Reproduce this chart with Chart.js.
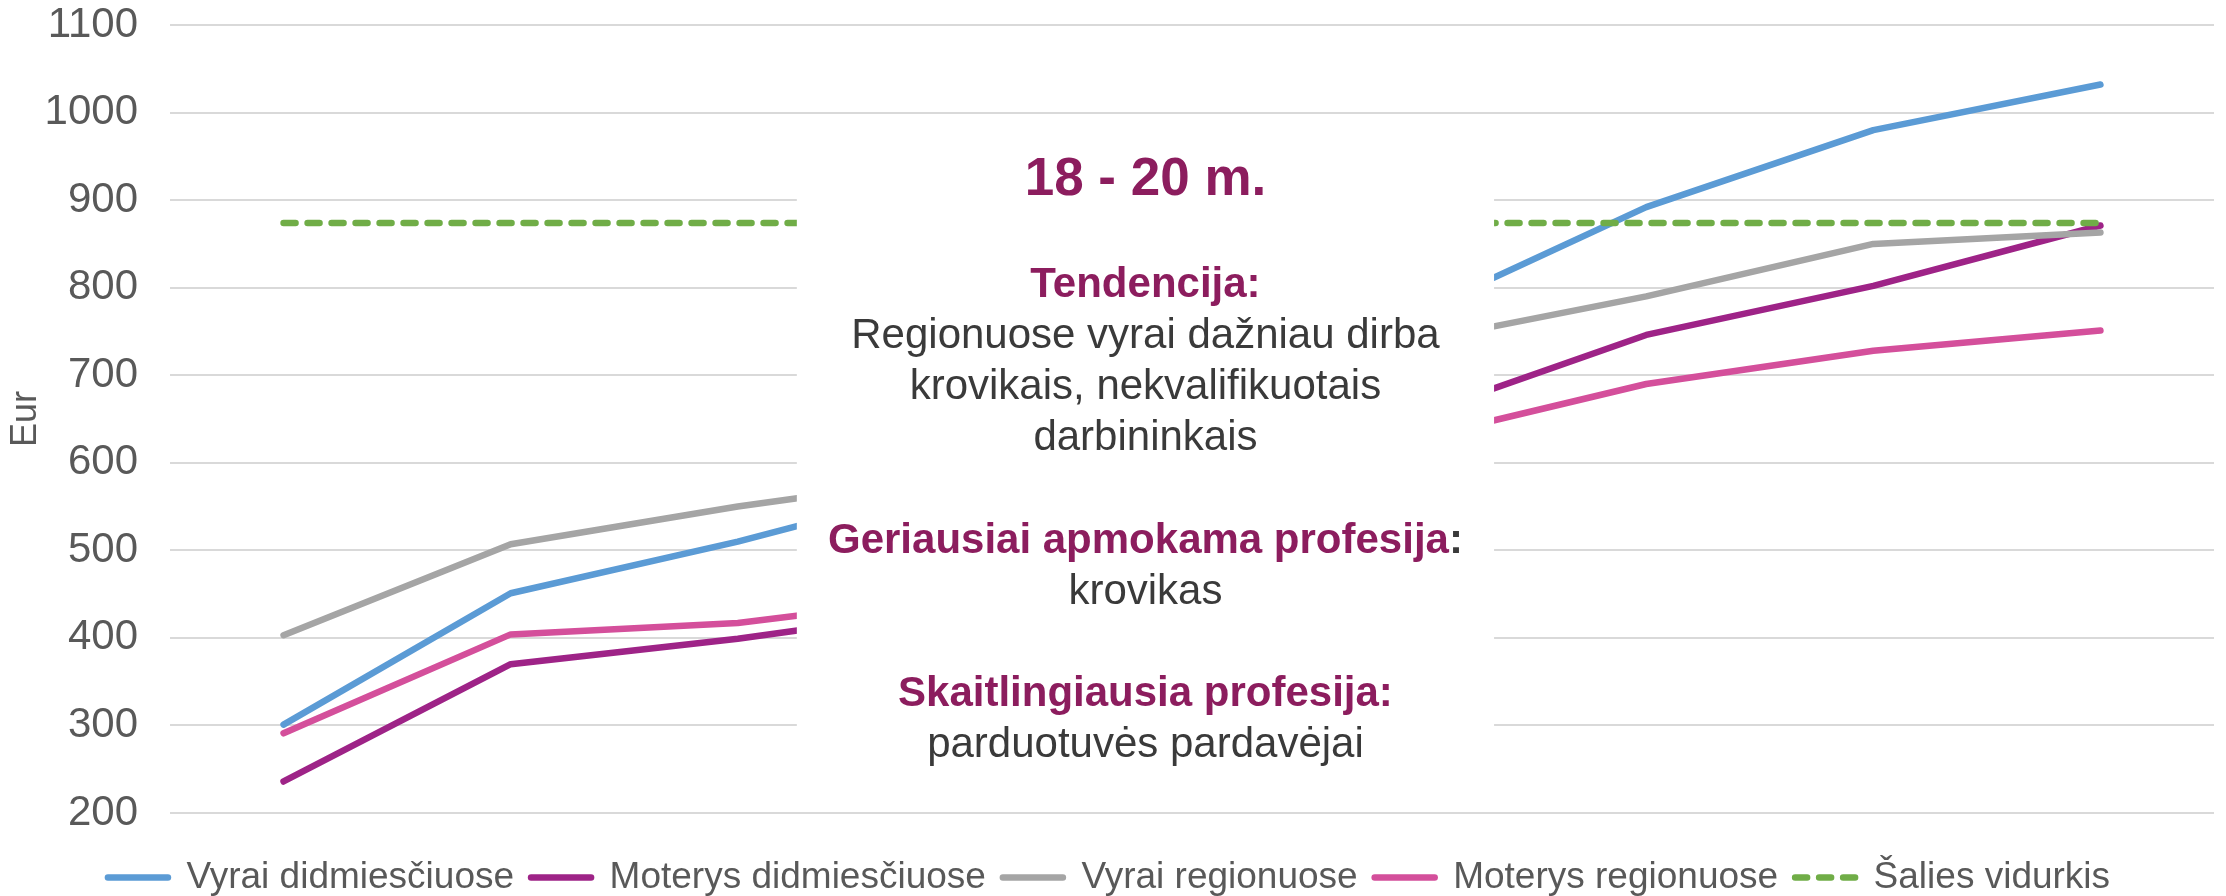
<!DOCTYPE html>
<html>
<head>
<meta charset="utf-8">
<script src="https://cdn.jsdelivr.net/npm/chart.js@4.4.1/dist/chart.umd.min.js"></script>
<style>
  body { margin: 0; background: #ffffff; }
  #wrap { width: 2226px; height: 896px; }
</style>
</head>
<body>
<div id="wrap"><canvas id="salaryChart" width="2226" height="896"></canvas></div>
<script>
const periods = ["1", "2", "3", "4", "5", "6", "7", "8", "9"];
const seriesNames = [
  "Vyrai didmiesčiuose",
  "Moterys didmiesčiuose",
  "Vyrai regionuose",
  "Moterys regionuose",
  "Šalies vidurkis",
];
const menCities = [301, 451, 510, 578, 680, 772, 892, 980, 1032];
const womenCities = [236, 370, 399, 435, 545, 655, 746, 802, 871];
const menRegions = [403, 507, 550, 586, 660, 739, 790, 850, 863];
const womenRegions = [291, 404, 417, 449, 540, 628, 690, 728, 751];
const countryAverage = [874, 874, 874, 874, 874, 874, 874, 874, 874];
const yTicks = [200, 300, 400, 500, 600, 700, 800, 900, 1000, 1100];

const lineColors = ["#5B9BD5", "#9E2387", "#A5A5A5", "#D44F9B", "#70AD47"];
const FONT = "'Liberation Sans', Arial, sans-serif";

// note text in the white box over the middle of the chart
const noteTitle = "18 - 20 m.";
const noteLines = [
  { head: "Tendencija:" },
  { text: "Regionuose vyrai dažniau dirba" },
  { text: "krovikais, nekvalifikuotais" },
  { text: "darbininkais" },
  {},
  { head: "Geriausiai apmokama profesija", tail: ":" },
  { text: "krovikas" },
  {},
  { head: "Skaitlingiausia profesija:" },
  { text: "parduotuvės pardavėjai" },
];

const noteBox = {
  id: "noteBox",
  afterDatasetsDraw(chart) {
    const { ctx, scales: { x, y } } = chart;
    const left = x.getPixelForValue(2.26);
    const right = x.getPixelForValue(5.33);
    const top = y.getPixelForValue(980);
    const bottom = y.getPixelForValue(250);
    const cx = (left + right) / 2;
    ctx.save();
    ctx.fillStyle = "#ffffff";
    ctx.fillRect(left, top, right - left, bottom - top);
    ctx.textBaseline = "middle";
    ctx.textAlign = "center";
    ctx.fillStyle = "#8C1D5E";
    ctx.font = "bold 53px " + FONT;
    ctx.fillText(noteTitle, cx, top + 50);
    let ly = top + 155;
    for (const line of noteLines) {
      if (line.head) {
        ctx.font = "bold 42px " + FONT;
        const tail = line.tail || "";
        const w1 = ctx.measureText(line.head).width;
        const w2 = ctx.measureText(tail).width;
        ctx.textAlign = "left";
        ctx.fillStyle = "#8C1D5E";
        ctx.fillText(line.head, cx - (w1 + w2) / 2, ly);
        ctx.fillStyle = "#3A3A3A";
        ctx.fillText(tail, cx - (w1 + w2) / 2 + w1, ly);
        ctx.textAlign = "center";
      } else if (line.text) {
        ctx.font = "42px " + FONT;
        ctx.fillStyle = "#3A3A3A";
        ctx.fillText(line.text, cx, ly);
      }
      ly += 51.2;
    }
    ctx.restore();
  },
};

const values = [menCities, womenCities, menRegions, womenRegions, countryAverage];
const datasets = values.map((data, i) => ({
  label: seriesNames[i],
  data: data,
  borderColor: lineColors[i],
  backgroundColor: lineColors[i],
  borderWidth: 6.5,
  borderCapStyle: "round",
  borderJoinStyle: "round",
  borderDash: i === 4 ? [12, 12] : [],
  pointRadius: 0,
  tension: 0,
  fill: false,
  order: 5 - i,
}));

new Chart(document.getElementById("salaryChart"), {
  type: "line",
  data: { labels: periods, datasets: datasets },
  plugins: [noteBox],
  options: {
    responsive: false,
    animation: false,
    devicePixelRatio: 1,
    layout: { padding: { top: 25, right: 12, bottom: -10, left: 4 } },
    scales: {
      x: {
        offset: true,
        grid: { display: false },
        border: { display: false },
        ticks: { display: false },
        afterFit: (scale) => {
          scale.height = 29;
          scale.paddingLeft = 0;
          scale.paddingRight = 0;
        },
      },
      y: {
        min: 200,
        max: 1100,
        afterBuildTicks: (scale) => {
          scale.ticks = yTicks.map((v) => ({ value: v }));
        },
        afterFit: (scale) => {
          scale.width = 166;
          scale.paddingTop = 0;
          scale.paddingBottom = 0;
        },
        border: { display: false },
        grid: { color: "#D9D9D9", lineWidth: 2, drawTicks: false },
        ticks: {
          color: "#595959",
          padding: 32,
          font: { family: FONT, size: 42 },
          callback: (v) => String(v),
        },
        title: {
          display: true,
          text: "Eur",
          color: "#595959",
          padding: 0,
          font: { family: FONT, size: 36 },
        },
      },
    },
    plugins: {
      tooltip: { enabled: false },
      legend: {
        position: "bottom",
        reverse: true,
        labels: {
          color: "#595959",
          font: { family: FONT, size: 37 },
          usePointStyle: true,
          pointStyle: "line",
          pointStyleWidth: 60,
          padding: 17,
          generateLabels: (chart) => {
            const items = Chart.defaults.plugins.legend.labels.generateLabels(chart);
            items.forEach((item) => {
              const ds = chart.data.datasets[item.datasetIndex];
              item.lineDash = ds.borderDash;
              item.lineWidth = 6.5;
              item.lineCap = "round";
              item.strokeStyle = ds.borderColor;
            });
            return items;
          },
        },
      },
    },
  },
});
</script>
</body>
</html>
